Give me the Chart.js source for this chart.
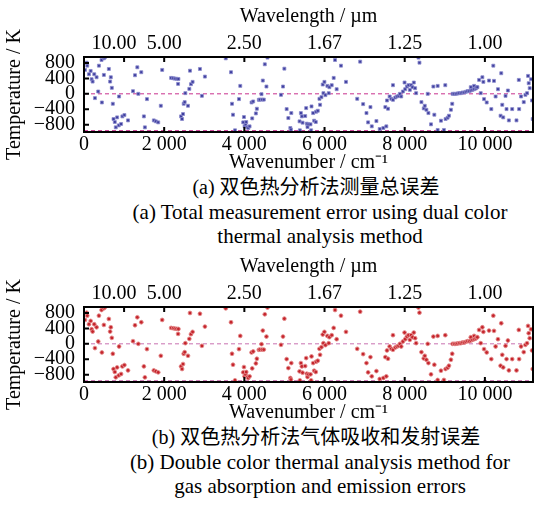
<!DOCTYPE html>
<html>
<head>
<meta charset="utf-8">
<script src="https://cdn.jsdelivr.net/npm/chart.js@4.4.1/dist/chart.umd.min.js"></script>
<style>
  html, body { margin: 0; padding: 0; background: #fff; overflow: hidden; }
  body { width: 538px; height: 512px; position: relative; font-family: "Liberation Serif", serif; color: #000; }
  .panel { position: absolute; left: 0; width: 538px; height: 175px; }
  .cap { position: absolute; left: 0; width: 640px; text-align: center; font-size: 21px; line-height: 24px; white-space: nowrap; }
  .cn { width: 632px; font-family: "Liberation Serif", "Noto Sans CJK SC", serif; font-size: 20px; }
</style>
</head>
<body>
<div class="panel" style="top:0"><canvas id="chartA"></canvas></div>
<div class="cap cn" style="top:175px">(a) 双色热分析法测量总误差</div>
<div class="cap" style="top:200px">(a) Total measurement error using dual color</div>
<div class="cap" style="top:224px">thermal analysis method</div>

<div class="panel" style="top:250px"><canvas id="chartB"></canvas></div>
<div class="cap cn" style="top:425px">(b) 双色热分析法气体吸收和发射误差</div>
<div class="cap" style="top:450px">(b) Double color thermal analysis method for</div>
<div class="cap" style="top:474px">gas absorption and emission errors</div>

<script>
// ==========================================
// Data
// ==========================================
const wnTicks = [0, 2000, 4000, 6000, 8000, 10000];
const wavelengthTicks = [10, 5, 2.5, 5 / 3, 1.25, 1];
const tempTicks = [-800, -400, 0, 400, 800];
const refLevels = [0, -955];
const wnRange = [0, 11200];
const tempRange = [-990, 955];

const wavenumber = [
  25, 66, 82, 124, 166, 190, 215, 256, 273, 314, 355, 372, 438, 446, 496, 496, 520, 620, 652, 669,
  694, 719, 736, 768, 793, 826, 867, 875, 925, 958, 1008, 1098, 1222, 1272, 1330, 1355, 1429, 1494, 1519, 1570,
  1742, 1792, 1851, 1916, 1950, 2173, 2223, 2265, 2310, 2347, 2355, 2421, 2446, 2470, 2487, 2511, 2528, 2594, 2627, 2644,
  2668, 2709, 2892, 2941, 3016, 3536,
  3667, 3692, 3717, 3767, 3866, 3898, 3972, 3990, 4006, 4031, 4047, 4072, 4097, 4130,
  4180, 4196, 4220, 4287, 4312, 4361, 4386, 4428, 4440, 4460, 4485, 4510, 4551, 4577,
  4914, 4964, 4998, 5055, 5097, 5147, 5162, 5171,
  5377, 5385, 5410, 5434, 5452, 5517, 5542, 5558, 5575, 5600, 5650, 5666, 5675, 5716, 5741, 5782, 5790, 5831,
  5873, 5889, 5923, 5955, 5972, 5997, 6022, 6071, 6104, 6121, 6179, 6228, 6262, 6302, 6410, 6535,
  6815, 6889, 6963, 7046, 7087, 7145, 7178, 7294,
  7376, 7467, 7517, 7541, 7558, 7583, 7624, 7665, 7707, 7707, 7765, 7806, 7847, 7880, 7913, 7955, 7996, 8012, 8054, 8095,
  8128, 8161, 8194, 8227, 8260, 8285, 8343, 8368, 8417, 8475, 8500, 8541, 8574, 8591, 8656, 8715, 8739, 8822, 8822, 8904,
  8978, 9012, 9020, 9070, 9103, 9152, 9185, 9194, 9235, 9276, 9317, 9359, 9400, 9441, 9483, 9524, 9565, 9607, 9648, 9648,
  9689, 9731, 9731, 9772, 9789, 9813, 9855, 9896, 9937, 9962, 9979, 10045, 10103, 10160, 10210, 10227, 10267, 10326, 10391, 10408,
  10433, 10457, 10515, 10540, 10574, 10598, 10681, 10788, 10846, 10854, 10903, 10969, 11011, 11052, 11077, 11093, 11118, 11152, 11176, 11193
];

// (a) total measurement error, K
const errTotal = [
  620, 808, 730, 508, 593, 379, 318, 508, -111, 430, 60, 730, 877, -224, 920, 490, 946, 645, 318, 430,
  155, -258, -653, -730, -869, -611, -818, -69, -782, -585, -550, -689, 69, 482, 688, 0, 560, -585, -869, -137,
  -689, -714, -740, -310, 620, 413, 405, 395, 390, 258, 385, -585, -653, -524, -258, -215, 17, -310, 129, 600,
  250, 310, 645, -52, 447, 920,
  560, -258, -542, -946, -137, 206, -740, -602, -843, -800, -731, -860, -886, -843,
  -224, -637, -198, -508, -387, -155, -150, -9, -150, 344, -150, 766, 189, 940,
  -26, 189, 653, -396, -628, -886, -929, -499,
  -714, -946, -499, -585, -748, -576, -370, -774, -860, -791, -791, -946, -327, -499, -697, -731, -465, -439,
  -129, -284, -86, 241, 17, 310, -34, 206, 17, 172, 224, 413, 877, 120, 730, 310,
  -129, 834, -267, -499, -740, -344, -843, -706,
  -912, -886, -344, -843, -172, -387, -69, -129, 224, -155, -95, -69, -52, 0, -69, 60, 293, 120, 189, 224,
  103, 224, 172, 293, 146, 17, 940, 808, -215, -378, -310, -413, 0, -499, -791, 189, -542, 206, -937, -697,
  -937, 224, -653, -619, -568, -413, -258, 0, 0, 0, 9, 17, 17, 34, 34, 52, 69, 69, 86, 172,
  103, 120, 206, 138, 172, 172, 361, 17, 430, 310, -137, -224, 344, -396, 730, 336, -69, 120, -568, 534,
  -284, -611, -52, -396, 86, -689, -396, -689, 361, -396, -69, -215, -26, 17, 465, 275, 146, 378, -172, -653
];

// (b) gas absorption and emission error, K
const errGas = [
  620, 808, 730, 508, 593, 379, 318, 508, -111, 430, 60, 730, 877, -224, 920, 490, 946, 645, 318, 430,
  155, -258, -653, -730, -869, -611, -818, -69, -782, -585, -550, -689, 69, 482, 688, 0, 560, -585, -869, -137,
  -689, -714, -740, -310, 620, 413, 405, 395, 390, 258, 385, -585, -653, -524, -258, -215, 17, -310, 129, 800,
  250, 310, 780, -52, 447, 920,
  560, -258, -542, -946, -137, 206, -740, -602, -843, -800, -731, -860, -886, -843,
  -224, -637, -198, -508, -387, -155, -150, -9, -150, 344, -150, 766, 189, 940,
  -26, 189, 653, -396, -628, -886, -929, -499,
  -714, -946, -499, -585, -748, -576, -370, -774, -860, -791, -791, -946, -327, -499, -697, -731, -465, -439,
  -129, -284, -86, 241, 17, 310, -34, 206, 17, 172, 224, 413, 877, 120, 730, 310,
  -129, 834, -267, -499, -740, -344, -843, -706,
  -912, -886, -344, -843, -172, -387, -69, -129, 224, -155, -95, -69, -52, 0, -69, 60, 293, 120, 189, 224,
  103, 224, 172, 293, 146, 17, 940, 808, -215, -378, -310, -413, 0, -499, -791, 189, -542, 206, -937, -697,
  -937, 224, -653, -619, -568, -413, -258, 0, 0, 0, 9, 17, 17, 34, 34, 52, 69, 69, 86, 172,
  103, 120, 206, 138, 172, 172, 361, 17, 430, 310, -137, -224, 344, -396, 730, 336, -69, 120, -568, 534,
  -284, -611, -52, -396, 86, -689, -396, -689, 361, -396, -69, -215, -26, 17, 465, 275, 146, 378, -172, -653
];

// ==========================================
// Helpers
// ==========================================
Chart.defaults.font.family = '"Liberation Serif", serif';
Chart.defaults.font.size = 20;
Chart.defaults.color = '#000';

const fmtThousands = (v) => String(Math.abs(v)).replace(/\B(?=(\d{3})+(?!\d))/g, ' ');
const fmtSigned = (v) => (v < 0 ? '\u2212' : '') + Math.abs(v);
// the first wavelength label sits left of its tick in the original, padded with trailing spaces
const fmtWavelength = (v) => {
  const s = (10000 / v).toFixed(2);
  return s.length > 4 ? s + '    ' : s;
};

// inward tick marks + heavy frame
const frameTicks = {
  id: 'frameTicks',
  afterDatasetsDraw(chart) {
    const { ctx, chartArea: a, scales } = chart;
    const len = 5;
    ctx.save();
    ctx.strokeStyle = '#000';
    ctx.lineWidth = 2;
    ctx.beginPath();
    scales.x.ticks.forEach(t => {
      if (t.value <= wnRange[0]) return;
      const px = scales.x.getPixelForValue(t.value);
      ctx.moveTo(px, a.bottom); ctx.lineTo(px, a.bottom - len);
    });
    scales.xTop.ticks.forEach(t => {
      const px = scales.xTop.getPixelForValue(t.value);
      ctx.moveTo(px, a.top); ctx.lineTo(px, a.top + len);
    });
    scales.y.ticks.forEach(t => {
      const py = scales.y.getPixelForValue(t.value);
      ctx.moveTo(a.left, py); ctx.lineTo(a.left + len, py);
    });
    ctx.stroke();
    ctx.strokeRect(a.left, a.top, a.right - a.left, a.bottom - a.top);
    ctx.restore();
  }
};

function makeChart(id, values, look) {
  const points = wavenumber.map((w, i) => ({ x: w, y: values[i] }));
  const refSets = refLevels.map(lvl => ({
    data: [{ x: wnRange[0], y: lvl }, { x: wnRange[1], y: lvl }],
    showLine: true,
    pointRadius: 0,
    borderColor: look.dash,
    borderWidth: 1,
    borderDash: [4, 3],
    order: 2
  }));

  return new Chart(document.getElementById(id), {
    type: 'scatter',
    data: {
      datasets: [{
        data: points,
        pointStyle: look.style,
        pointRadius: look.radius,
        backgroundColor: look.fill,
        borderColor: look.edge,
        borderWidth: 1,
        order: 1
      }, ...refSets]
    },
    options: {
      responsive: true,
      maintainAspectRatio: false,
      animation: false,
      events: [],
      layout: { padding: { left: 0, right: 2, top: 0, bottom: 0 } },
      plugins: { legend: { display: false }, tooltip: { enabled: false } },
      scales: {
        x: {
          type: 'linear', position: 'bottom',
          min: wnRange[0], max: wnRange[1],
          afterBuildTicks: s => { s.ticks = wnTicks.map(v => ({ value: v })); },
          afterFit: s => { s.height = 43; },
          grid: { display: false, drawTicks: false },
          border: { display: false },
          ticks: { padding: 1, autoSkip: false, maxRotation: 0, callback: v => fmtThousands(v) },
          title: { display: true, text: 'Wavenumber / cm\u207B\u00B9', padding: { top: 0, bottom: 0 } }
        },
        xTop: {
          type: 'linear', position: 'top',
          min: wnRange[0], max: wnRange[1],
          afterBuildTicks: s => { s.ticks = wavelengthTicks.map(l => ({ value: 10000 / l })); },
          afterFit: s => { s.height = 57; },
          grid: { display: false, drawTicks: false },
          border: { display: false },
          ticks: { padding: 1, autoSkip: false, maxRotation: 0, callback: v => fmtWavelength(v) },
          title: { display: true, text: 'Wavelength / \u00B5m', padding: { top: 5, bottom: 0 } }
        },
        y: {
          type: 'linear', position: 'left',
          min: tempRange[0], max: tempRange[1],
          afterBuildTicks: s => { s.ticks = tempTicks.map(v => ({ value: v })); },
          afterFit: s => { s.width = 84; },
          grid: { display: false, drawTicks: false },
          border: { display: false },
          ticks: { padding: 9, autoSkip: false, callback: v => fmtSigned(v) },
          title: { display: true, text: 'Temperature / K', padding: { top: 3, bottom: 0 } }
        }
      }
    },
    plugins: [frameTicks]
  });
}

makeChart('chartA', errTotal, {
  style: 'rect', radius: 2.1, fill: '#3e3e9e', edge: 'rgba(140,140,205,0.8)', dash: '#c8308e'
});
makeChart('chartB', errGas, {
  style: 'circle', radius: 1.9, fill: '#c4242c', edge: 'rgba(228,140,140,0.9)', dash: '#c870b0'
});
</script>
</body>
</html>
